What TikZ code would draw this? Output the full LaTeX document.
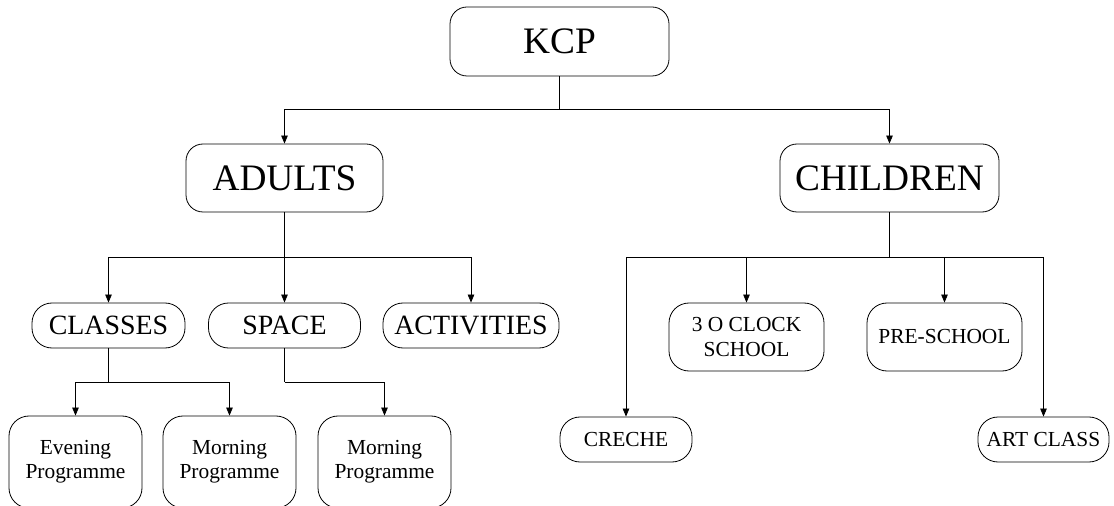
\documentclass[tikz,border=0pt]{standalone}
\usepackage{fontspec}
\setmainfont{Liberation Serif}
\usetikzlibrary{arrows.meta}
\begin{document}
\begin{tikzpicture}[x=1bp,y=-1bp,
  box/.style={draw, line width=0.8bp, rounded corners=17bp, inner sep=0pt, align=center, fill=white},
  big/.style={box, font=\fontsize{37.5}{40}\selectfont},
  mid/.style={box, rounded corners=20bp, font=\fontsize{28}{32}\selectfont, minimum height=45bp},
  small/.style={box, rounded corners=20bp, font=\fontsize{21.5}{24.5}\selectfont},
  conn/.style={line width=0.8bp},
  arr/.style={conn, -{Triangle[length=8bp,width=6.5bp]}}]
\useasboundingbox (0,0) rectangle (1114,506);
% level 1
\node[big, minimum width=219bp, minimum height=69bp] (kcp) at (559.5,41.5) {KCP};
% level 2
\node[big, minimum width=197bp, minimum height=68bp] (adults) at (284.5,178) {ADULTS};
\node[big, minimum width=219bp, minimum height=68bp] (children) at (889.5,178) {CHILDREN};
% level 3 adults
\node[mid, minimum width=153bp] (classes) at (108.5,325.5) {CLASSES};
\node[mid, minimum width=152bp] (space) at (284.5,325.5) {SPACE};
\node[mid, minimum width=176bp] (activities) at (471,325.5) {ACTIVITIES};
% level 4 adults
\node[small, minimum width=133bp, minimum height=92bp] (evening) at (75.5,462) {Evening\\Programme};
\node[small, minimum width=133bp, minimum height=92bp] (morning1) at (229.5,462) {Morning\\Programme};
\node[small, minimum width=133bp, minimum height=92bp] (morning2) at (384.5,462) {Morning\\Programme};
% children
\node[small, minimum width=155bp, minimum height=68bp] (three) at (746.5,337) {3 O CLOCK\\SCHOOL};
\node[small, minimum width=155bp, minimum height=68bp] (pre) at (944.5,337) {PRE-SCHOOL};
\node[small, minimum width=132bp, minimum height=45bp] (creche) at (626,439.5) {CRECHE};
\node[small, minimum width=131bp, minimum height=45bp] (art) at (1043.5,439.5) {ART CLASS};
% junctions
\coordinate (j1) at (559.5,109);
\coordinate (j2) at (284.5,257);
\coordinate (j3) at (889.5,257);
\coordinate (j4) at (108.5,382);
\coordinate (j5) at (284.5,382);
% connectors
\draw[conn] (kcp.south) -- (j1);
\draw[arr] (j1) -| (adults.north);
\draw[arr] (j1) -| (children.north);
\draw[conn] (adults.south) -- (j2);
\draw[arr] (j2) -| (classes.north);
\draw[arr] (j2) -- (space.north);
\draw[arr] (j2) -| (activities.north);
\draw[conn] (classes.south) -- (j4);
\draw[arr] (j4) -| (evening.north);
\draw[arr] (j4) -| (morning1.north);
\draw[conn] (space.south) -- (j5);
\draw[arr] (j5) -| (morning2.north);
\draw[conn] (children.south) -- (j3);
\draw[arr] (j3) -| (creche.north);
\draw[arr] (j3) -| (three.north);
\draw[arr] (j3) -| (pre.north);
\draw[arr] (j3) -| (art.north);
\end{tikzpicture}
\end{document}
